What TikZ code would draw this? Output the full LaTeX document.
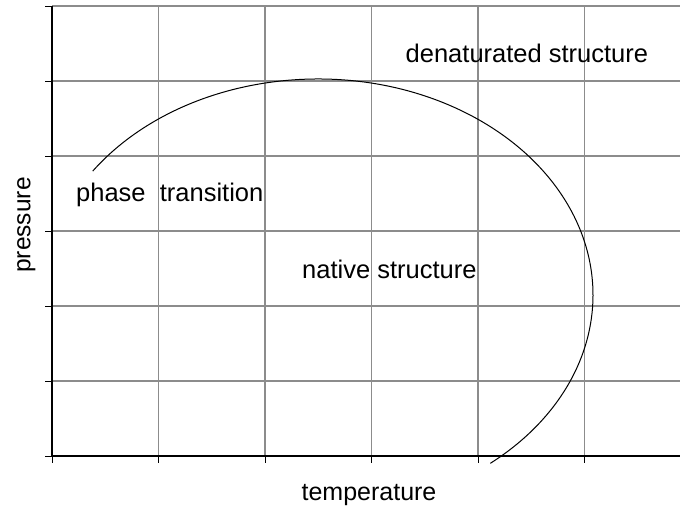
\documentclass[tikz,border=0pt]{standalone}
\usepackage{fontspec}
\setmainfont{Liberation Sans}
\begin{document}
\begin{tikzpicture}[x=1pt,y=-1pt,
  gridline/.style={draw=black!45,line width=1.2pt},
  axisline/.style={draw=black,line width=2.2pt},
  tickline/.style={draw=black,line width=0.9pt},
  curveline/.style={draw=black,line width=1pt},
  lbl/.style={font=\fontsize{25.5}{30}\selectfont,inner sep=0pt},
  axlbl/.style={font=\fontsize{25}{30}\selectfont,inner sep=0pt},
  ylbl/.style={font=\fontsize{24.5}{30}\selectfont,inner sep=0pt}]
\useasboundingbox (0,0) rectangle (680,508);
% grid
\foreach \gx in {158.5,265,371.5,478,584.5}
  \draw[gridline] (\gx,6) -- (\gx,456);
\foreach \gy in {6,81,156,231,306,381}
  \draw[gridline] (52,\gy) -- (680,\gy);
% ticks
\foreach \gy in {6,81,156,231,306,381,456}
  \draw[tickline] (45,\gy) -- (52,\gy);
\foreach \gx in {52,158.5,265,371.5,478,584.5}
  \draw[tickline] (\gx,456) -- (\gx,463);
% axes
\coordinate (origin) at (52,456);
\coordinate (ytop) at (52,6);
\coordinate (xend) at (680,456);
\draw[axisline] (ytop) -- (origin) -- (xend);
% curve
\coordinate (ctr) at (318,295);
\draw[curveline] ([shift={(145:275pt and 216pt)}]ctr) arc[start angle=145,end angle=-51.2,x radius=275pt,y radius=216pt];
% labels
\node[lbl,anchor=base west] (den) at (405.5,63) {denaturated structure};
\node[lbl,anchor=base west] (phase) at (76,201.5) {phase\ \ transition};
\node[lbl,anchor=base west] (nat) at (302,278) {native structure};
\node[axlbl,anchor=base] (temp) at (369,500.5) {temperature};
\node[ylbl,anchor=base,rotate=90] (pres) at (30.5,225) {pressure};
\end{tikzpicture}
\end{document}
